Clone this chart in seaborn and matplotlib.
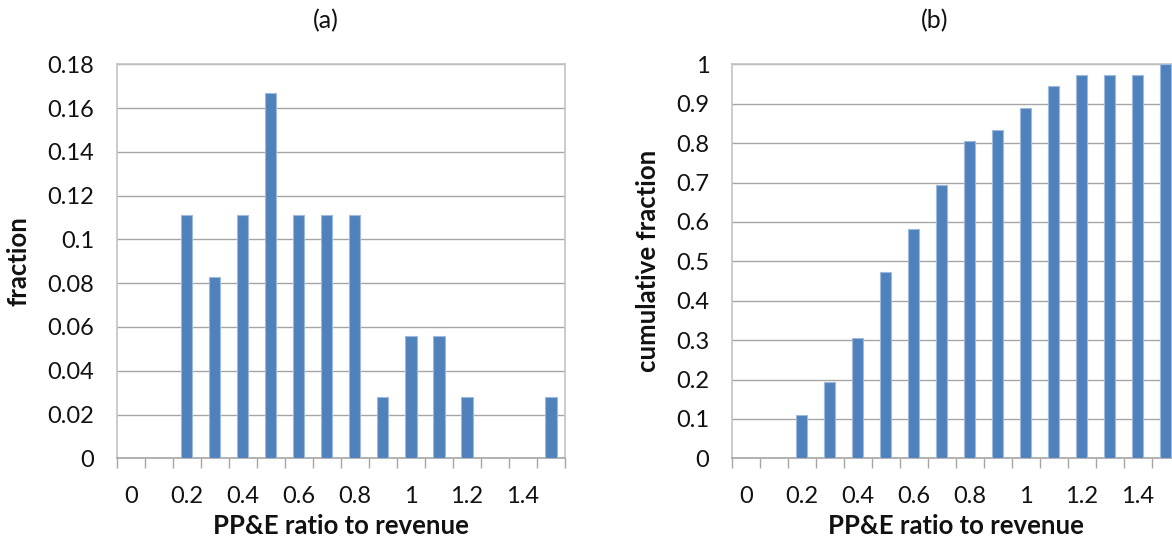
import matplotlib
matplotlib.use("Agg")
import matplotlib.pyplot as plt
from matplotlib.ticker import FixedLocator, FuncFormatter
import seaborn as sns
import pandas as pd

# PP&E ratio bins and the share of companies in each bin
ratio_bins = ["0", "0.1", "0.2", "0.3", "0.4", "0.5", "0.6", "0.7",
              "0.8", "0.9", "1", "1.1", "1.2", "1.3", "1.4", "1.5"]
fraction = [0, 0, 0.111, 0.083, 0.111, 0.167, 0.111, 0.111,
            0.111, 0.028, 0.056, 0.056, 0.028, 0, 0, 0.028]
cumulative = [0, 0, 0.111, 0.194, 0.306, 0.472, 0.583, 0.694,
              0.806, 0.833, 0.889, 0.944, 0.972, 0.972, 0.972, 1.0]

xlabel = "PP&E ratio to revenue"
panel_titles = ["(a)", "(b)"]
ylabels = ["fraction", "cumulative fraction"]

sns.set_theme(style="white")
plt.rcParams["font.family"] = ["Lato", "DejaVu Sans"]

BAR = "#4F81BD"
BAR_EDGE = "#9DB9DC"
GRID = "#a6a6a6"
FRAME = "#c4c4c4"
TEXT = "#111111"

fig = plt.figure(figsize=(11.72, 5.44), dpi=100)
W, H = 1172, 544
ax_a = fig.add_axes([116.7 / W, (H - 458.3) / H, 448.3 / W, 394 / H])
ax_b = fig.add_axes([731.7 / W, (H - 458.3) / H, 448.0 / W, 394 / H])

df = pd.DataFrame({"bin": ratio_bins, "fraction": fraction, "cumulative": cumulative})

panels = [
    (ax_a, "fraction", 0.18, [i * 0.02 for i in range(10)]),
    (ax_b, "cumulative", 1.0, [i * 0.1 for i in range(11)]),
]

for (ax, col, ymax, yticks), ylab in zip(panels, ylabels):
    sns.barplot(data=df, x="bin", y=col, order=ratio_bins, color=BAR,
                width=0.4, saturation=1, edgecolor=BAR_EDGE, linewidth=0.8,
                ax=ax, zorder=3)
    ax.set_xlim(-0.5, len(ratio_bins) - 0.5)
    ax.set_ylim(0, ymax)

    # horizontal gridlines
    ax.yaxis.set_major_locator(FixedLocator(yticks))
    ax.yaxis.set_major_formatter(FuncFormatter(lambda v, p: f"{round(v, 4):g}"))
    ax.grid(axis="y", color=GRID, linewidth=1.0, zorder=0)
    ax.grid(axis="x", visible=False)
    ax.set_axisbelow(True)

    # category labels on every other bin, tick marks between bins
    centers = list(range(0, len(ratio_bins), 2))
    ax.xaxis.set_major_locator(FixedLocator(centers))
    ax.set_xticklabels([ratio_bins[i] for i in centers])
    ax.xaxis.set_minor_locator(FixedLocator([i - 0.5 for i in range(len(ratio_bins) + 1)]))
    ax.tick_params(axis="x", which="major", length=0, pad=20,
                   labelsize=17, labelcolor=TEXT)
    ax.tick_params(axis="x", which="minor", length=7, width=1.0,
                   color=GRID, direction="out", bottom=True)
    ax.tick_params(axis="y", which="major", length=0, pad=16,
                   labelsize=17, labelcolor=TEXT)

    for side in ["left", "top", "right"]:
        ax.spines[side].set_color(FRAME)
        ax.spines[side].set_linewidth(1.2)
    ax.spines["bottom"].set_color(GRID)
    ax.spines["bottom"].set_linewidth(1.2)

    ax.set_xlabel(xlabel, fontsize=18.5, fontweight="bold", color=TEXT, labelpad=5)
    ax.set_ylabel(ylab, fontsize=18.5, fontweight="bold", color=TEXT, labelpad=12)

fig.text(326 / W, 1 - 21 / H, panel_titles[0], ha="center", va="center",
         fontsize=18, color=TEXT)
fig.text(935 / W, 1 - 21 / H, panel_titles[1], ha="center", va="center",
         fontsize=18, color=TEXT)

fig.savefig("out.png", dpi=100, facecolor="white")
